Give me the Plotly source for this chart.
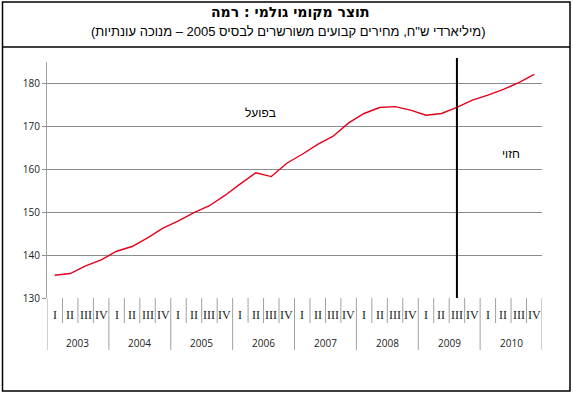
import plotly.graph_objects as go

years = ["2003", "2004", "2005", "2006", "2007", "2008", "2009", "2010"]
quarters = ["I", "II", "III", "IV"]
gdp = [135.3, 135.7, 137.5, 138.9, 140.9, 142.0, 144.0, 146.3,
       148.0, 149.9, 151.5, 153.9, 156.6, 159.2, 158.3, 161.4,
       163.5, 165.8, 167.7, 170.8, 173.0, 174.4, 174.6, 173.8,
       172.6, 173.0, 174.4, 176.1, 177.3, 178.6, 180.2, 182.1]
yticks = [130, 140, 150, 160, 170, 180]
forecast_start = "III 2009"

title_text = "תוצר מקומי גולמי : רמה"
subtitle_text = "(מיליארדי ש\"ח, מחירים קבועים משורשרים לבסיס 2005 – מנוכה עונתיות)"
label_actual = "בפועל"
label_forecast = "חזוי"

categories = [f"{q} {y}" for y in years for q in quarters]

W, H = 573, 393
ML, MR, MT, MB = 47, 31, 62, 95
PW, PH = W - ML - MR, H - MT - MB


def px(xp):
    return (xp - ML) / PW


def py(yp):
    return (H - MB - yp) / PH


fig = go.Figure()
fig.add_trace(go.Scatter(x=categories, y=gdp, mode="lines",
                         line=dict(color="#e3001b", width=1.4),
                         showlegend=False, hoverinfo="skip"))

shapes = []
# outer frame and title divider
shapes.append(dict(type="rect", xref="paper", yref="paper",
                   x0=px(2.5), x1=px(570), y0=py(391), y1=py(2),
                   line=dict(color="black", width=1.5)))
shapes.append(dict(type="line", xref="paper", yref="paper",
                   x0=px(2.5), x1=px(570), y0=py(47), y1=py(47),
                   line=dict(color="black", width=1.5)))
# quarter and year separators under the axis
n = len(categories)
for i in range(n + 1):
    is_year = (i % 4 == 0)
    shapes.append(dict(type="line", xref="x", yref="paper",
                       x0=i - 0.5, x1=i - 0.5, y0=0,
                       y1=py(350) if is_year else py(323),
                       line=dict(color="#a0a0a0", width=1)))
# forecast start line
fs = categories.index(forecast_start)
shapes.append(dict(type="line", xref="x", yref="paper",
                   x0=fs, x1=fs, y0=0, y1=py(58),
                   line=dict(color="black", width=2)))

annotations = []
for i, c in enumerate(categories):
    annotations.append(dict(x=i, y=py(315), xref="x", yref="paper",
                            text=c.split(" ")[0], showarrow=False,
                            font=dict(family="Liberation Serif", size=12, color="#222"),
                            xanchor="center", yanchor="middle"))
for k, yr in enumerate(years):
    annotations.append(dict(x=4 * k + 1.5, y=py(343), xref="x", yref="paper",
                            text=yr, showarrow=False,
                            font=dict(family="Open Sans", size=10, color="#222"),
                            xanchor="center", yanchor="middle"))
annotations.append(dict(x=px(290), y=py(11.5), xref="paper", yref="paper",
                        text="<b>" + title_text + "</b>", showarrow=False,
                        font=dict(family="DejaVu Sans", size=14, color="black"),
                        xanchor="center", yanchor="middle"))
annotations.append(dict(x=px(288), y=py(32), xref="paper", yref="paper",
                        text=subtitle_text, showarrow=False,
                        font=dict(family="Liberation Sans", size=13, color="black"),
                        xanchor="center", yanchor="middle"))
annotations.append(dict(x=13.3, y=173.0, xref="x", yref="y",
                        text=label_actual, showarrow=False,
                        font=dict(family="Liberation Sans", size=12, color="black"),
                        xanchor="center", yanchor="middle"))
annotations.append(dict(x=29.5, y=163.6, xref="x", yref="y",
                        text=label_forecast, showarrow=False,
                        font=dict(family="Liberation Sans", size=12, color="black"),
                        xanchor="center", yanchor="middle"))

fig.update_layout(
    width=W, height=H,
    margin=dict(l=ML, r=MR, t=MT, b=MB, pad=0),
    paper_bgcolor="white", plot_bgcolor="white",
    shapes=shapes, annotations=annotations,
    xaxis=dict(type="category", categoryorder="array", categoryarray=categories,
               range=[-0.5, n - 0.5], showticklabels=False, showgrid=False,
               zeroline=False, showline=False, ticks=""),
    yaxis=dict(range=[130, 185], tickvals=yticks, showgrid=True,
               gridcolor="#8c8c8c", gridwidth=1, zeroline=False,
               showline=True, linecolor="#a0a0a0", linewidth=1,
               ticks="outside", ticklen=4, tickcolor="#8c8c8c",
               tickfont=dict(family="Open Sans", size=10, color="#222")),
)

fig.write_html("out.html", config={"displayModeBar": False},
               post_script="document.body.style.margin='0';")
